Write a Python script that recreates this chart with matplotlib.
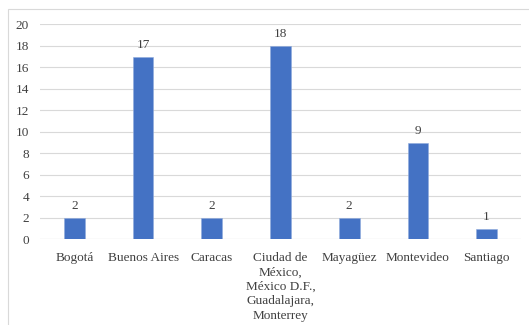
import matplotlib
matplotlib.use("Agg")
import matplotlib.pyplot as plt
from matplotlib.patches import Rectangle

categories = ["Bogotá", "Buenos Aires", "Caracas",
              "Ciudad de\nMéxico,\nMéxico D.F.,\nGuadalajara,\nMonterrey",
              "Mayagüez", "Montevideo", "Santiago"]
values = [2, 17, 2, 18, 2, 9, 1]
yticks = [0, 2, 4, 6, 8, 10, 12, 14, 16, 18, 20]

plt.rcParams['font.family'] = ['Liberation Serif', 'DejaVu Serif']

fig = plt.figure(figsize=(5.29, 3.25), dpi=100)
fig.patches.append(Rectangle((8/529, -0.1), 1.2, 1 - 9/325 + 0.1, transform=fig.transFigure,
                             fill=False, edgecolor='#D9D9D9', linewidth=0.8))
ax = fig.add_axes([40/529, 1 - 239.3/325, 481/529, (239.3 - 24.3)/325])

x = range(len(categories))
bars = ax.bar(x, values, width=0.3, color='#4472C4', edgecolor='#8FAADC', linewidth=0.4, zorder=3)
for xi, v in zip(x, values):
    ax.annotate(str(v), (xi, v), xytext=(0, 4), textcoords='offset points',
                ha='center', va='bottom', fontsize=9.5, color='#404040')

ax.set_xlim(-0.5, len(categories) - 0.5)
ax.set_ylim(0, 20)
ax.set_yticks(yticks)
ax.set_yticklabels([str(t) for t in yticks])
ax.set_xticks(list(x))
ax.set_xticklabels(categories, linespacing=1.28)
ax.tick_params(axis='both', length=0, labelsize=9.5, labelcolor='#404040')
ax.tick_params(axis='y', pad=8)
ax.tick_params(axis='x', pad=9)
ax.grid(axis='y', color='#D9D9D9', linewidth=0.8, zorder=0)
for s in ax.spines.values():
    s.set_visible(False)
ax.axhline(0, color='#D9D9D9', linewidth=0.8, zorder=1)

fig.savefig("out.png", dpi=100)
